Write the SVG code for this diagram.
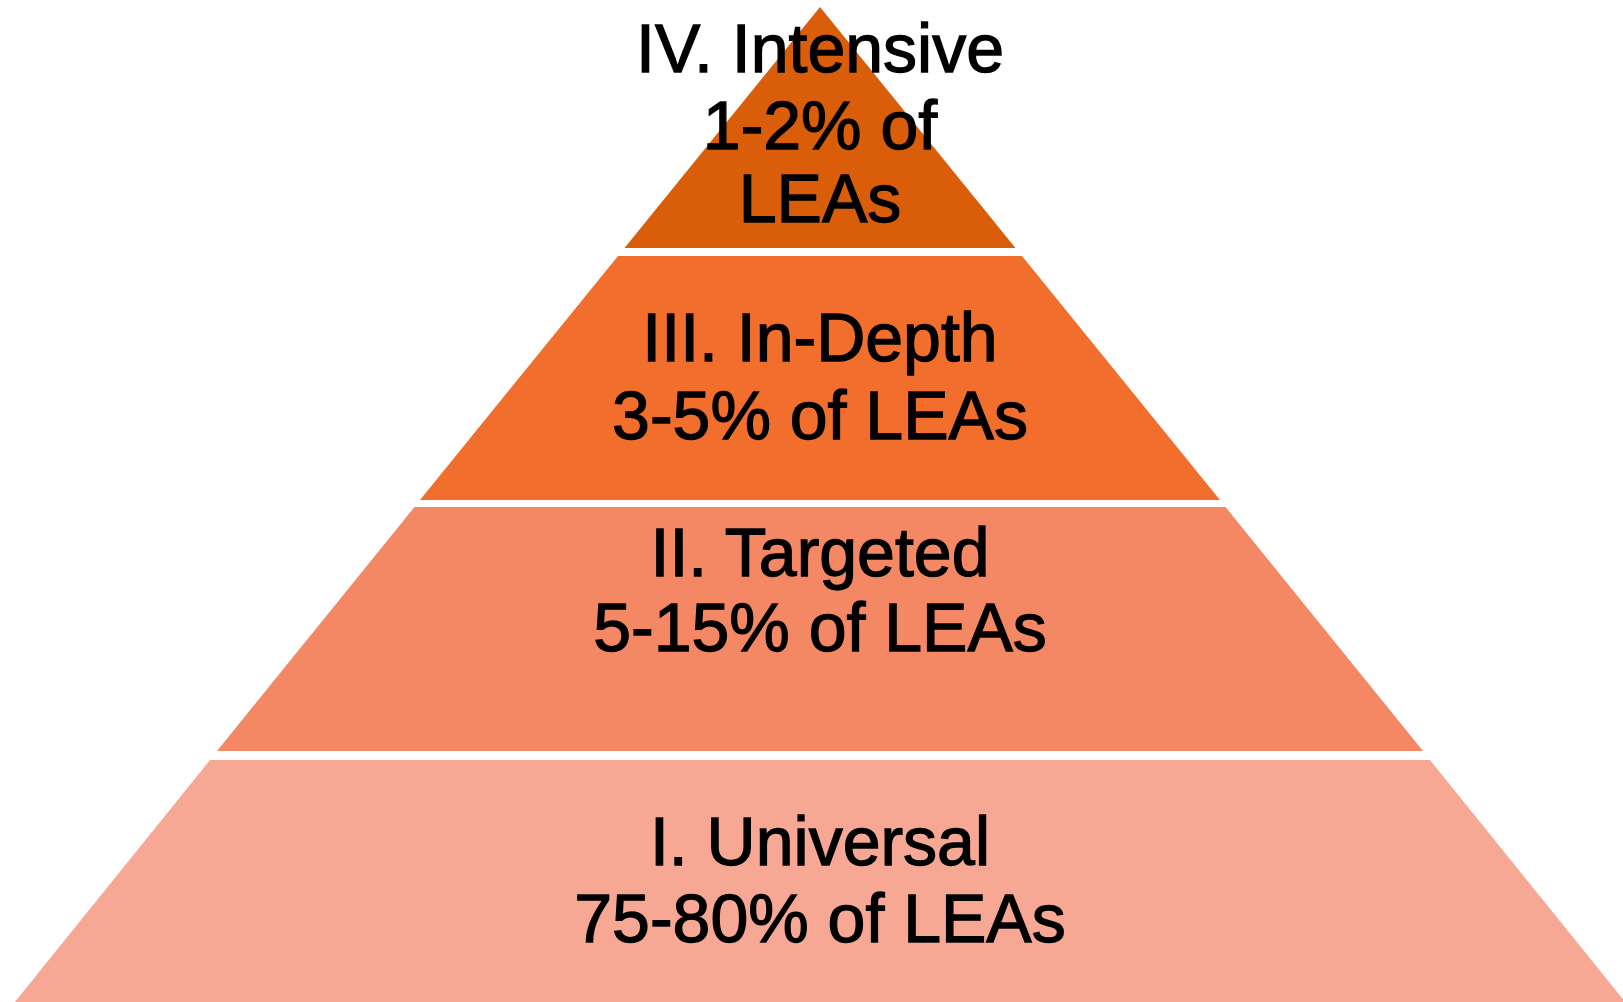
<svg xmlns="http://www.w3.org/2000/svg" width="1623" height="1002" viewBox="0 0 1623 1002">
<style>
.lbl{font-family:"Liberation Sans",Arial,sans-serif;font-size:68px;fill:#000;stroke:#000;stroke-width:1.3px;text-anchor:middle}
</style>
<rect width="1623" height="1002" fill="#fff"/>
<g id="tier4">
<polygon points="820,7 1015.5,248 624.5,248" fill="#DA5D0A"/>
<text class="lbl" x="820" y="72">IV. Intensive</text>
<text class="lbl" x="820" y="149">1-2% of</text>
<text class="lbl" x="820" y="222">LEAs</text>
</g>
<g id="tier3">
<polygon points="618,256 1022,256 1220,500 420,500" fill="#F26E2C"/>
<text class="lbl" x="820" y="361">III. In-Depth</text>
<text class="lbl" x="820" y="439">3-5% of LEAs</text>
</g>
<g id="tier2">
<polygon points="414.5,507 1225.5,507 1423,751 217,751" fill="#F58864"/>
<text class="lbl" x="820" y="576">II. Targeted</text>
<text class="lbl" x="820" y="651">5-15% of LEAs</text>
</g>
<g id="tier1">
<polygon points="210,760 1430,760 1630,1008 10,1008" fill="#F6A895"/>
<text class="lbl" x="820" y="865">I. Universal</text>
<text class="lbl" x="820" y="942">75-80% of LEAs</text>
</g>
<g id="connectors"></g>
</svg>
